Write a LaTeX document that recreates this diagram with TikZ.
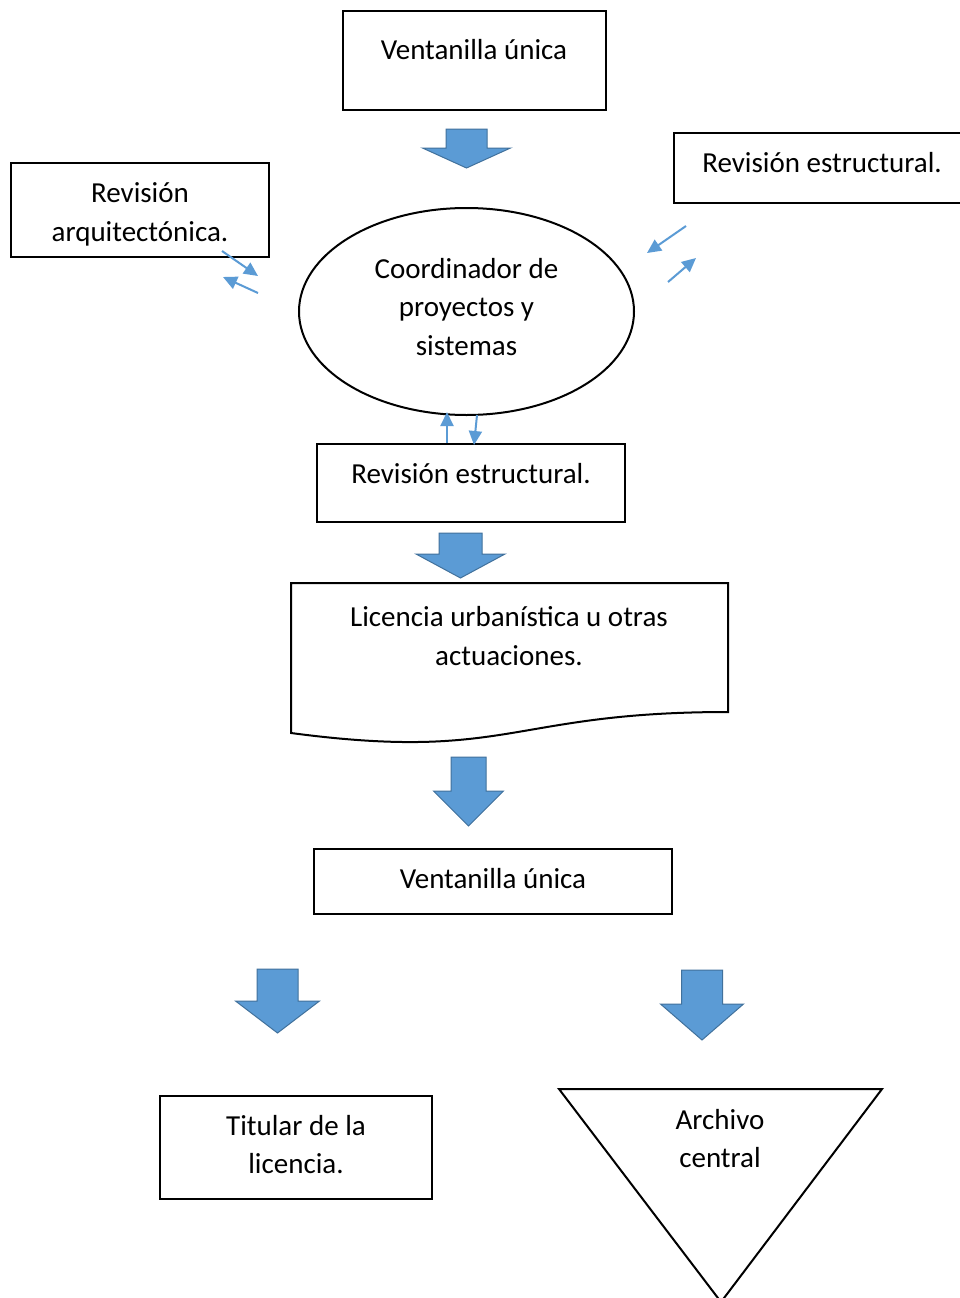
\documentclass[tikz,border=0pt]{standalone}
\usepackage{fontspec}
\setmainfont{Carlito}
\usetikzlibrary{shapes.geometric,arrows.meta}
\definecolor{blk}{HTML}{5B9BD5}
\definecolor{blkedge}{HTML}{41719C}
\newcommand\bigdown[6]{\draw[blockarrow] ({#1-#2},#3) -- ({#1+#2},#3) -- ({#1+#2},#4) -- ({#1+#5},#4) -- (#1,#6) -- ({#1-#5},#4) -- ({#1-#2},#4) -- cycle;}
\begin{document}
\begin{tikzpicture}[x=1pt,y=-1pt,
  box/.style={draw, line width=2pt, rectangle, inner sep=0pt, outer sep=0pt},
  shapeline/.style={draw, line width=2pt, line join=miter},
  txt/.style={anchor=base, inner sep=0pt, outer sep=0pt, font=\fontsize{29}{38.5}\selectfont},
  blockarrow/.style={fill=blk, draw=blkedge, line width=1pt, line join=miter},
  smallarrow/.style={draw=blk, line width=2pt, -{Triangle[length=14pt,width=13pt]}}]
\useasboundingbox (0,0) rectangle (960,1298);
\clip (0,0) rectangle (960,1298);
\fill[white] (0,0) rectangle (960,1298);

% boxes
\node[box, minimum width=263pt, minimum height=99pt] (v1) at (474.5,60.5) {};
\node[box, minimum width=258pt, minimum height=94pt] (arq) at (140,210) {};
\node[box, minimum width=301pt, minimum height=70pt] (est1) at (824.5,168) {};
\node[draw, line width=2pt, ellipse, inner sep=0pt, outer sep=0pt, minimum width=335pt, minimum height=207pt] (coord) at (466.5,311.5) {};
\node[box, minimum width=308pt, minimum height=78pt] (est2) at (471,483) {};
\node[box, minimum width=358pt, minimum height=65pt] (v2) at (493,881.5) {};
\node[box, minimum width=272pt, minimum height=103pt] (tit) at (296,1147.5) {};

% document shape
\coordinate (docTL) at (291,583);
\coordinate (docTR) at (728,583);
\coordinate (docBR) at (728,712);
\coordinate (docBL) at (291,733);
\draw[shapeline] (docTL) -- (docTR) -- (docBR) .. controls (509.5,712) and (509.5,762) .. (docBL) -- cycle;

% archive triangle
\coordinate (triL) at (559,1089);
\coordinate (triR) at (882,1089);
\coordinate (triB) at (721,1302);
\draw[shapeline] (triL) -- (triR) -- (triB) -- cycle;

% texts
\node[txt] (t1) at (474,59.5) {Ventanilla única};
\node[txt] (t2a) at (140,202.5) {Revisión};
\node[txt] (t2b) at (140,241.5) {arquitectónica.};
\node[txt] (t3) at (822,172.5) {Revisión estructural.};
\node[txt] (t4a) at (466.5,278.5) {Coordinador de};
\node[txt] (t4b) at (466.5,316.5) {proyectos y};
\node[txt] (t4c) at (466.5,355.5) {sistemas};
\node[txt] (t5) at (471,483.5) {Revisión estructural.};
\node[txt] (t6a) at (509,626.5) {Licencia urbanística u otras};
\node[txt] (t6b) at (509,665.5) {actuaciones.};
\node[txt] (t7) at (493,888.5) {Ventanilla única};
\node[txt] (t8a) at (296,1135.5) {Titular de la};
\node[txt] (t8b) at (296,1173.5) {licencia.};
\node[txt] (t9a) at (720,1129.5) {Archivo};
\node[txt] (t9b) at (720,1167.5) {central};

% block arrows
\bigdown{466.5}{20.5}{129}{148}{44}{168}
\bigdown{460.5}{21.5}{533}{554}{44.5}{578}
\bigdown{468.5}{17.5}{757}{791}{35}{826}
\bigdown{277.5}{20.5}{969}{1001}{42}{1033}
\bigdown{702}{20.5}{970}{1004}{41.5}{1040}

% small arrows
\coordinate (la1s) at (222,251); \coordinate (la1e) at (258,276);
\coordinate (la2s) at (258,293); \coordinate (la2e) at (223,277);
\coordinate (ra1s) at (686,226); \coordinate (ra1e) at (647,253);
\coordinate (ra2s) at (668,282); \coordinate (ra2e) at (696,258);
\coordinate (ba1s) at (447,443); \coordinate (ba1e) at (447,412);
\coordinate (ba2s) at (477,415); \coordinate (ba2e) at (474,445);
\draw[smallarrow] (la1s) -- (la1e);
\draw[smallarrow] (la2s) -- (la2e);
\draw[smallarrow] (ra1s) -- (ra1e);
\draw[smallarrow] (ra2s) -- (ra2e);
\draw[smallarrow] (ba1s) -- (ba1e);
\draw[smallarrow] (ba2s) -- (ba2e);
\end{tikzpicture}
\end{document}
